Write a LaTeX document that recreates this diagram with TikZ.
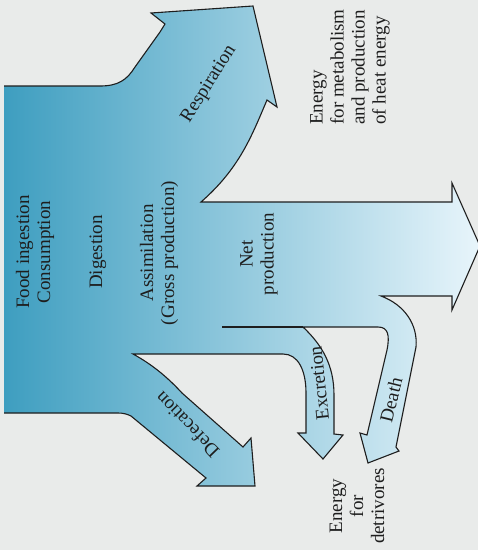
\documentclass[tikz,border=0pt]{standalone}
\usepackage{fontspec}
\setmainfont{Liberation Serif}
\usetikzlibrary{positioning}

\definecolor{flowleft}{HTML}{3E9EC0}
\definecolor{flowright}{HTML}{E8F5FB}
\definecolor{paper}{HTML}{E9EBEA}
\definecolor{ink}{HTML}{1E1E1E}

% outline of the energy flow, left edge left open
\newcommand{\flowoutline}{(4,86) -- (100,86) .. controls (118,86) and (127,80) .. (135,67)
  -- (160,32) -- (165,24) -- (151,13) -- (253,6) -- (277,107) -- (267,100)
  .. controls (252,135) and (240,168) .. (201,202) -- (452,202) -- (452,183)
  -- (480,246) -- (452,310) -- (452,296) -- (381,296)
  .. controls (405,305) and (418,325) .. (416,347) -- (396,447) -- (399,451)
  -- (368,463) -- (360,433) -- (367,435) -- (387,350)
  .. controls (390,335) and (388,327) .. (378,327) -- (303,327)
  .. controls (322,345) and (334,365) .. (334,395) -- (334,434) -- (343,435)
  -- (323,459) -- (298,433) -- (306,433) -- (306,393)
  .. controls (306,370) and (298,354) .. (283,354) -- (133,354)
  .. controls (155,366) and (170,380) .. (182,393) -- (243,447) -- (251,438)
  -- (255,486) -- (197,486) -- (206,478) -- (131,416)
  .. controls (127,414) and (123,413) .. (118,413) -- (4,413)}

\begin{document}
\begin{tikzpicture}
  [
    x=1pt, y=-1pt,
    flow/.style={draw=ink, line width=1.1pt, line join=miter},
    flowfill/.style={left color=flowleft, right color=flowright},
    lbl/.style={text=ink, font=\fontsize{19}{21}\selectfont, inner sep=0pt, align=center}
  ]
    \useasboundingbox (0,0) rectangle (478,550);
    \fill [paper] (0,0) rectangle (478,550);

    % =========================================================================
    % SHAPE
    % =========================================================================
    \shade [flowfill] \flowoutline -- cycle;
    \draw [flow] \flowoutline;
    \coordinate (split) at (222,327);
    \coordinate (excr top) at (303,327);
    \draw [flow] (split) -- (excr top);

    % =========================================================================
    % LABELS
    % =========================================================================
    \node [lbl, rotate=90] (food) at (35,252) {Food ingestion\\Consumption};
    \node [lbl, rotate=90] (digestion) at (98,252) {Digestion};
    \node [lbl, rotate=90] (assim) at (159,253) {Assimilation\\(Gross production)};
    \node [lbl, rotate=58] (resp) at (209,84) {Respiration};
    \node [lbl, rotate=90] (net) at (259,254) {Net\\production};
    \node [lbl, rotate=90, anchor=west, align=left] (metab) at (350,125)
      {Energy\\for metabolism\\and production\\of heat energy};
    \node [lbl, rotate=96] (excr) at (319,383) {Excretion};
    \node [lbl, rotate=76] (death) at (391,400) {Death};
    \node [lbl, rotate=134] (defec) at (187,425) {Defecation};
    \node [lbl, rotate=90] (detri) at (357,506) {Energy\\for\\detrivores};

\end{tikzpicture}
\end{document}
